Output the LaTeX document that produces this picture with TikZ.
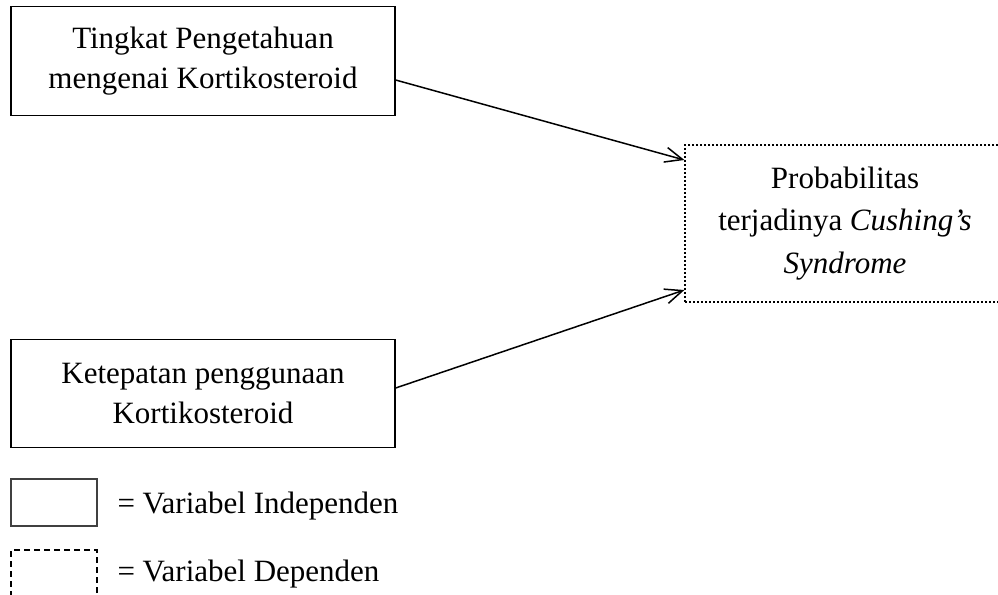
\documentclass[tikz,border=0pt]{standalone}
\usepackage{fontspec}
\setmainfont{Liberation Serif}
\usetikzlibrary{arrows.meta}
\tikzset{
  varbox/.style={draw=black,line width=0.5pt,align=center,inner sep=0pt,
    font=\fontsize{12.4}{16}\selectfont},
  indep/.style={varbox,minimum width=153.6pt,minimum height=43.4pt},
  dep/.style={varbox,dash pattern=on 0.8pt off 0.8pt,minimum width=128pt,
    minimum height=62.8pt,font=\fontsize{12.4}{17}\selectfont},
  keybox/.style={draw=black!75,line width=0.5pt,minimum width=34.4pt,
    minimum height=18.8pt,inner sep=0pt},
  keytext/.style={anchor=west,inner sep=0pt,font=\fontsize{12.4}{16}\selectfont},
  arr/.style={-{Straight Barb[length=7pt,width=6pt]},line width=0.6pt},
}
\begin{document}
\begin{tikzpicture}[x=0.4pt,y=-0.4pt]
  \useasboundingbox (0,0) rectangle (998,594);
  \node[indep] (tahu) at (203,61) {Tingkat Pengetahuan\\mengenai Kortikosteroid};
  \node[indep] (tepat) at (203,393.5) {Ketepatan penggunaan\\Kortikosteroid};
  \node[dep] (cush) at (845,223.5) {Probabilitas\\terjadinya \textit{Cushing's}\\\textit{Syndrome}};
  \draw[arr] ([yshift=-7.6pt]tahu.east) -- ([yshift=25.4pt]cush.west);
  \draw[arr] ([yshift=2.2pt]tepat.east) -- ([yshift=-26.6pt]cush.west);
  % keterangan
  \node[keybox] (kind) at (54,502.5) {};
  \node[keybox,draw=black,dash pattern=on 2.4pt off 1.6pt] (kdep) at (54,573.5) {};
  \node[keytext] (tind) at (117,506) {= Variabel Independen};
  \node[keytext] (tdep) at (117,574) {= Variabel Dependen};
\end{tikzpicture}
\end{document}
